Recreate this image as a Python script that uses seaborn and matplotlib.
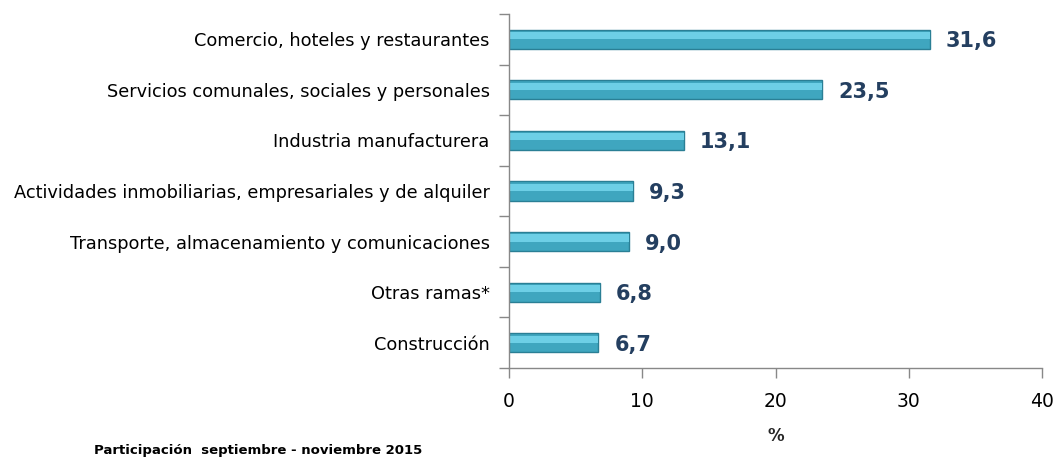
import matplotlib
matplotlib.use("Agg")
import matplotlib.pyplot as plt
import seaborn as sns
import pandas as pd

sns.set_style("white")
plt.rcParams["font.family"] = ["DejaVu Sans"]
plt.rcParams["text.color"] = "black"
plt.rcParams["xtick.color"] = "black"
plt.rcParams["ytick.color"] = "black"

ramas = [
    "Comercio, hoteles y restaurantes",
    "Servicios comunales, sociales y personales",
    "Industria manufacturera",
    "Actividades inmobiliarias, empresariales y de alquiler",
    "Transporte, almacenamiento y comunicaciones",
    "Otras ramas*",
    "Construcción",
]
participacion = [31.6, 23.5, 13.1, 9.3, 9.0, 6.8, 6.7]
etiquetas = ["31,6", "23,5", "13,1", "9,3", "9,0", "6,8", "6,7"]
xticks = [0, 10, 20, 30, 40]

df = pd.DataFrame({"rama": ramas, "valor": participacion})

fig = plt.figure(figsize=(10.57, 4.63), dpi=100)
ax = fig.add_axes([0.4816, 0.2052, 0.5042, 0.7646])

sns.barplot(data=df, y="rama", x="valor", order=ramas, color="#3FA6BF",
            saturation=1, width=0.38, edgecolor="#2A7F95", linewidth=1, ax=ax)
# light strip on the upper half for the glossy look
sns.barplot(data=df, y="rama", x="valor", order=ramas, color="#6DCFE6",
            saturation=1, width=0.14, linewidth=0, ax=ax)
for p in ax.patches[len(ramas):]:
    p.set_y(p.get_y() - 0.07)

for i, (v, lab) in enumerate(zip(participacion, etiquetas)):
    ax.text(v + 1.2, i + 0.04, lab, va="center", ha="left", fontsize=15,
            fontweight="bold", color="#243F60")

ax.set_xlim(0, 40)
ax.set_ylim(len(ramas) - 0.5, -0.5)
ax.set_xticks(xticks)
ax.set_xticklabels([str(t) for t in xticks], fontsize=13.5)
ax.set_yticks(range(len(ramas)))
ax.set_yticklabels(ramas, fontsize=12.8)
ax.set_yticks([i - 0.5 for i in range(len(ramas) + 1)], minor=True)
ax.tick_params(left=True, bottom=True, which="both")
ax.tick_params(axis="y", which="major", length=0, pad=14)
ax.tick_params(axis="y", which="minor", length=7, color="#888888", width=1)
ax.tick_params(axis="x", length=7, color="#888888", width=1, pad=10)
ax.set_ylabel("")
ax.set_xlabel("%", fontsize=12, fontweight="bold", labelpad=12)

for s in ["top", "right"]:
    ax.spines[s].set_visible(False)
for s in ["left", "bottom"]:
    ax.spines[s].set_color("#888888")
    ax.spines[s].set_linewidth(1)

fig.text(0.089, 0.012, "Participación  septiembre - noviembre 2015", fontsize=9.5,
         fontweight="bold", ha="left", va="bottom")

fig.savefig("out.png", dpi=100)
